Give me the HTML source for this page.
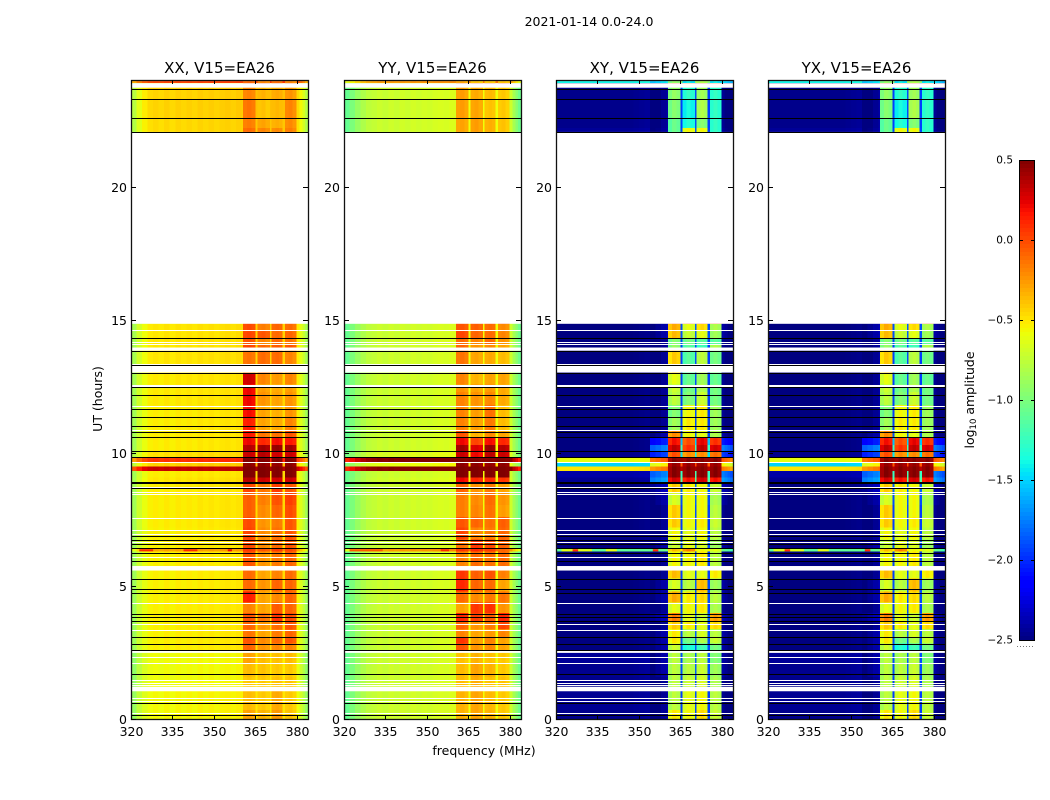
<!DOCTYPE html>
<html lang="en">
<head>
<meta charset="utf-8">
<title>2021-01-14 0.0-24.0</title>
<style>
html,body{margin:0;padding:0;background:#fff;}
svg{display:block;font-family:"DejaVu Sans","Liberation Sans",sans-serif;fill:#000;}
</style>
</head>
<body>
<svg id="fig" xmlns="http://www.w3.org/2000/svg" width="1050" height="800" viewBox="0 0 1050 800">
  <rect x="0" y="0" width="1050" height="800" fill="#fff"/>
  <text x="589" y="26" font-size="12.5" text-anchor="middle">2021-01-14 0.0-24.0</text>
  <text x="484" y="755" font-size="12.5" text-anchor="middle">frequency (MHz)</text>
  <text x="0" y="0" font-size="12.5" text-anchor="middle" transform="translate(102,399) rotate(-90)">UT (hours)</text>
  <text x="0" y="0" font-size="12.5" text-anchor="middle" transform="translate(974,400) rotate(-90)">log<tspan font-size="8.5" dy="2">10</tspan><tspan dy="-2"> amplitude</tspan></text>
  <g id="panels"></g>
  <g id="cbar"></g>
</svg>
<script>
// ---------- axis labels ----------
const freqTicks = [320, 335, 350, 365, 380];
const hourTicks = [0, 5, 10, 15, 20];
const colorbarTicks = [0.5, 0, -0.5, -1, -1.5, -2, -2.5];
const colorbarTickLabels = ['0.5', '0.0', '\u22120.5', '\u22121.0', '\u22121.5', '\u22122.0', '\u22122.5'];

// ---------- frequency channels (MHz) ----------
const channelEdges = [320,322,324,326,328,330,332,334,336,338,340,342,344,346,348,350,352,354,356,358,360,360.5,362,363.5,365,365.7,367.2,368.7,370.2,370.8,372.2,373.5,374.8,375.6,377,378.4,379.8,381,382,383,384];
// -1 continuum, 0..3 sub-band block, 4 shoulder / inter-block gap
const channelBand = [-1,-1,-1,-1,-1,-1,-1,-1,-1,-1,-1,-1,-1,-1,-1,-1,-1,4,4,4,4,0,0,0,4,1,1,1,4,2,2,2,4,3,3,3,4,4,4,4];

// ---------- per-channel spectra, log10 amplitude ----------
const xxSpectrum = [-.92,-.76,-.66,-.6,-.58,-.6,-.57,-.6,-.57,-.59,-.57,-.59,-.56,-.58,-.56,-.58,-.56,-.55,-.57,-.55,-.56,0,.02,-.01,-.52,0,.02,-.02,-.52,-.02,0,-.02,-.52,0,.02,-.03,-.6,-.7,-.8,-.92];
const yySpectrum = [-1.08,-1,-.9,-.82,-.76,-.74,-.71,-.73,-.7,-.72,-.69,-.71,-.68,-.7,-.68,-.69,-.67,-.66,-.67,-.65,-.66,0,.02,-.02,-.58,0,.02,-.02,-.58,-.02,0,-.02,-.58,0,.02,-.02,-.7,-.85,-.95,-1.05];
const xySpectrum = [-2.5,-2.5,-2.5,-2.5,-2.5,-2.5,-2.5,-2.5,-2.5,-2.5,-2.5,-2.5,-2.5,-2.5,-2.49,-2.48,-2.47,-.15,-.1,-.05,0,-.1,0,-.05,.45,-.08,0,-.06,.5,-.05,0,-.05,.45,-.06,0,-.06,-.05,-.1,-.15,-.2];

// ---------- time rows (start hour of each row; last entry closes the last row) ----------
const rowStartHours = [0,.35,1.1,1.6,2.1,2.6,2.85,3.1,3.4,3.7,4,4.4,4.8,5.3,5.75,6.31,6.39,6.75,7.2,7.6,8.05,8.5,8.9,9.08,9.33,9.5,9.66,9.86,10.07,10.3,10.6,10.86,11.35,11.8,12.3,12.6,13,13.84,14.05,14.31,14.6,14.85,22.05,22.2,22.58,23.29,23.71,23.88,23.96,24];

// continuum level offset of each row
const xxContinuum = [.02,.02,0,0,0,.05,.05,.05,.05,.05,.05,.05,.05,.05,.05,.3,.05,.05,.06,.06,.06,.06,.08,.06,.9,.15,.65,.1,.06,.06,.06,.06,.06,.07,.07,.07,.08,.08,.08,.08,.08,0,.12,.12,.14,.14,0,.6,0];
const yyContinuum = [0,0,0,0,0,0,0,0,0,0,0,0,0,0,0,.45,0,0,0,0,0,0,.02,0,1.2,.1,1.2,.05,0,0,0,0,0,0,0,0,0,0,0,0,0,0,0,0,0,0,0,.45,0];
const xyContinuum = [.03,.05,.03,.04,.06,0,0,0,0,0,0,0,0,0,0,1.4,0,0,0,0,0,0,.05,.1,2,1,1.9,.03,0,0,0,0,0,0,0,0,0,0,0,0,0,0,.06,.03,.03,.03,0,1.1,0];

// xy / yx shoulder level beside the sub-band blocks
const xyShoulder = [-2.4,-2.4,-2.4,-2.35,-2.35,-2.35,-2.35,-2.35,-2.4,-2.3,-2.4,-2.35,-2.35,-2.4,-2.4,-1,-2.35,-2.4,-2.4,-2.4,-2.35,-2.3,-1.6,-1.7,-.1,-.5,0,-1.9,-1.7,-2,-2.35,-2.4,-2.4,-2.4,-2.4,-2.4,-2.4,-2.4,-2.4,-2.35,-2.35,-2.4,-2.38,-2.4,-2.4,-2.4,-2.4,-1.4,-2.4];

// sub-band block levels of each row: [block1, block2, block3, block4]
const xxBlocks = [
[-.3,-.35,-.25,-.4],[-.38,-.42,-.3,-.42],[-.42,-.42,-.38,-.4],[-.38,-.4,-.4,-.42],[-.3,-.38,-.38,-.38],
[-.1,-.25,-.2,-.2],[-.05,-.22,-.1,-.05],[-.15,-.3,-.15,-.1],[-.1,-.25,-.1,-.05],[-.05,-.15,.08,-.02],
[-.2,-.3,-.05,-.1],[.12,-.3,-.2,-.1],[-.12,-.25,-.08,-.1],[-.12,-.3,-.18,-.12],[-.05,-.25,-.15,-.1],
[.05,-.05,.05,0],[-.02,-.22,-.1,-.05],[0,-.22,-.12,-.05],[-.02,-.25,-.15,-.05],[-.08,-.22,-.08,-.02],
[-.08,-.18,-.02,.02],[0,-.15,.05,-.05],[.35,.3,.3,.3],[.5,.5,.5,.5],[.5,.5,.5,.5],
[.45,.45,.45,.45],[.5,.5,.5,.5],[.3,.35,.3,.3],[.35,.4,.45,.4],[.2,.1,.2,.15],
[.15,-.15,-.12,-.05],[.12,-.3,-.3,-.2],[.18,-.3,-.32,-.25],[.2,-.25,-.28,-.25],[.2,-.28,-.3,-.28],
[.28,-.2,-.25,-.2],[-.15,-.12,-.1,-.2],[0,-.1,-.05,-.05],[-.05,-.2,-.1,-.15],[0,-.05,-.1,-.1],
[-.02,-.18,-.08,-.12],[0,0,0,0],[-.12,-.2,-.2,-.18],[-.18,-.3,-.32,-.22],[-.15,-.4,-.35,-.2],
[-.2,-.35,-.3,-.25],[0,0,0,0],[-.1,-.2,-.1,-.2],[0,0,0,0]];
const yyBlocks = [
[-.35,-.3,-.33,-.42],[-.35,-.3,-.35,-.42],[-.38,-.33,-.38,-.4],[-.38,-.3,-.33,-.42],[-.4,-.35,-.38,-.42],
[-.05,-.25,-.2,-.3],[.05,-.28,-.18,-.3],[-.2,-.3,-.25,-.2],[-.1,-.25,-.15,0],[.1,.02,-.05,.1],
[-.3,.05,.08,-.25],[-.12,-.22,-.15,-.15],[.1,-.1,-.1,-.3],[.05,-.08,-.02,-.18],[-.2,-.12,-.12,-.12],
[.05,.1,.05,-.1],[-.15,.05,0,-.1],[0,-.2,-.15,-.1],[-.05,-.1,-.12,-.08],[-.18,-.2,-.12,-.28],
[-.18,-.22,-.1,-.25],[-.1,-.25,-.15,-.3],[.2,.1,.1,.05],[.5,.5,.5,.5],[.5,.5,.5,.5],
[.45,.45,.45,.45],[.5,.5,.5,.5],[.3,.2,.35,.3],[.4,.25,.45,.35],[.2,0,.2,.1],
[-.05,-.35,-.2,-.3],[-.2,-.28,-.15,-.38],[-.2,-.28,-.12,-.38],[-.2,-.25,-.2,-.32],[-.25,-.3,-.25,-.32],
[-.2,-.35,-.28,-.3],[-.15,-.3,-.3,-.38],[-.1,-.25,-.2,-.3],[-.12,-.2,-.1,-.25],[0,-.1,-.1,-.2],
[-.05,-.08,-.1,-.22],[0,0,0,0],[-.3,-.28,-.32,-.4],[-.3,-.28,-.32,-.4],[-.28,-.3,-.38,-.42],
[-.28,-.32,-.35,-.42],[0,0,0,0],[-.3,-.4,-.4,-.4],[0,0,0,0]];
const xyBlocks = [
[-.5,-.55,-.45,-.7],[-.75,-.6,-.55,-.75],[-.75,-.7,-.65,-.8],[-.75,-.75,-.7,-.85],[-.75,-.8,-.75,-.95],
[-.7,-1.3,-1.2,-1],[-.5,-1,-.8,-.7],[-.5,-.75,-.65,-.75],[-.4,-.5,-.6,-.45],[-.15,-.6,-.7,-.25],
[-.6,-.55,-.5,-.8],[-.3,-.5,-.45,-.75],[-.65,-.75,-.35,-.85],[-.35,-.6,-.6,-.5],[-.55,-.55,-.5,-.75],
[-.35,-.15,-.55,-.6],[-.7,-.6,-.65,-.85],[-.55,-.6,-.55,-.75],[-.4,-.55,-.5,-.7],[-.4,-.55,-.55,-.75],
[-.65,-.55,-.55,-.8],[-.4,-.5,-.55,-.7],[.3,.2,.3,.2],[.5,.5,.5,.5],[.5,.5,.5,.5],
[.45,.45,.45,.45],[.5,.5,.5,.5],[0,-.2,-.2,-.1],[.35,.1,.35,.3],[.2,0,.25,.1],
[-.2,-.55,-.6,-.8],[-.85,-.5,-.5,-.85],[-.95,-.55,-.5,-.85],[-.75,-.95,-.7,-1],[-.7,-1,-.8,-1],
[-.6,-1.05,-.85,-1.05],[-.4,-1.1,-.75,-1],[-.9,-1.1,-1.2,-.8],[-.95,-1,-1.1,-1.1],[-.35,-.7,-.6,-.85],
[-.3,-.6,-.45,-.8],[0,0,0,0],[-1.05,-.55,-.55,-1.25],[-1.05,-1.3,-.95,-1.25],[-.95,-1.35,-.8,-1.25],
[-.9,-1.25,-.85,-1.25],[0,0,0,0],[-.9,-1.4,-.8,-1.4],[0,0,0,0]];
const yxBlocks = xyBlocks;

// ---------- flagged data (hours) ----------
const whiteBands = [[14.85,22.05],[23.71,23.88],[23.96,24],[13.02,13.3],[13.84,13.96],[5.59,5.76],[2.5,2.6],[1.06,1.23]];
const whiteLines = [14.61,14.18,14.08,13.34,12.57,12.51,11.78,10.86,9.66,8.74,8.54,8.46,7.58,7.12,6.98,6.65,6.09,4.36,3.59,3.36,2.34,2.11,1.48,1.38,1.28,.81,.69,.26];
const blackLines = [23.67,23.29,22.58,22.05,14.31,13.84,13.32,13,12.47,12.17,11.65,11.35,11.03,10.8,10.6,10.07,9.86,8.89,8.93,8.68,6.87,6.73,6.58,6.44,6.24,5.94,5.29,4.89,4.75,3.97,3.84,3.69,3.09,2.85,2.6,1.7,.61,.16];

// ---------- RFI bursts near 6.35 h: [fromMHz, toMHz, level] ----------
const rfiHours = [6.31, 6.39];
const xxBursts = [[323,328,.1],[339,344,.1],[355,356.5,.2]];
const yyBursts = [[322,334,-.05],[355,358,.1]];
const xyBursts = [[322,333,-.6],[326,328,.1],[338,342,-.6],[355,357,.1]];
const yxBursts = xyBursts;

// ---------- colour scale ----------
const scaleMin = -2.5, scaleMax = 0.5;
const jetRed = [[0,0],[.35,0],[.66,1],[.89,1],[1,.5]];
const jetGreen = [[0,0],[.125,0],[.375,1],[.64,1],[.91,0],[1,0]];
const jetBlue = [[0,.5],[.11,1],[.34,1],[.65,0],[1,0]];

function seg(stops, t) {
  for (let i = 1; i < stops.length; i++) {
    if (t <= stops[i][0]) {
      const a = stops[i - 1], b = stops[i];
      return a[1] + (b[1] - a[1]) * (t - a[0]) / (b[0] - a[0]);
    }
  }
  return stops[stops.length - 1][1];
}
function colour(v) {
  const t = Math.min(1, Math.max(0, (v - scaleMin) / (scaleMax - scaleMin)));
  return 'rgb(' + Math.round(seg(jetRed, t) * 255) + ',' + Math.round(seg(jetGreen, t) * 255) + ',' + Math.round(seg(jetBlue, t) * 255) + ')';
}

const NS = 'http://www.w3.org/2000/svg';
function el(tag, attrs, parent) {
  const e = document.createElementNS(NS, tag);
  for (const k in attrs) e.setAttribute(k, attrs[k]);
  parent.appendChild(e);
  return e;
}

// ---------- axis functions ----------
const plotTop = 80, plotBottom = 719.5, plotWidth = 177;
const hoursMax = 24, freqMin = 320, freqMax = 384;
function yScale(h) { return plotBottom - h * (plotBottom - plotTop) / hoursMax; }
function xScale(f, left) { return left + (f - freqMin) * plotWidth / (freqMax - freqMin); }
function cbarY(v) { return 160 + (scaleMax - v) * 160; }

const panelDefs = [
  {name: 'xx', title: 'XX, V15=EA26', left: 131, spectrum: xxSpectrum, cont: xxContinuum, blocks: xxBlocks, bursts: xxBursts, shoulder: null},
  {name: 'yy', title: 'YY, V15=EA26', left: 344, spectrum: yySpectrum, cont: yyContinuum, blocks: yyBlocks, bursts: yyBursts, shoulder: null},
  {name: 'xy', title: 'XY, V15=EA26', left: 556, spectrum: xySpectrum, cont: xyContinuum, blocks: xyBlocks, bursts: xyBursts, shoulder: xyShoulder},
  {name: 'yx', title: 'YX, V15=EA26', left: 768, spectrum: xySpectrum, cont: xyContinuum, blocks: yxBlocks, bursts: yxBursts, shoulder: xyShoulder}
];

const panelsRoot = document.getElementById('panels');
panelDefs.forEach(function (p) {
  const g = el('g', {}, panelsRoot);
  
  

  const cells = el('g', {'shape-rendering': 'crispEdges'}, g);
  
  

  for (let r = 0; r < rowStartHours.length - 1; r++) {
    const y0 = yScale(rowStartHours[r + 1]), y1 = yScale(rowStartHours[r]);
    for (let c = 0; c < channelEdges.length - 1; c++) {
      const band = channelBand[c];
      let v;
      if (band >= 0 && band < 4) v = p.blocks[r][band] + p.spectrum[c];
      else if (band === 4 && p.shoulder) v = p.shoulder[r] + p.spectrum[c];
      else v = p.spectrum[c] + p.cont[r];
      const x0 = xScale(channelEdges[c], p.left), x1 = xScale(channelEdges[c + 1], p.left);
      const cell = el('rect', {x: x0.toFixed(2), y: y0.toFixed(2), width: (x1 - x0).toFixed(2), height: (y1 - y0).toFixed(2), fill: colour(v)}, cells);
      
      
    }
  }

  p.bursts.forEach(function (b) {
    const x0 = xScale(b[0], p.left), x1 = xScale(b[1], p.left);
    const burst = el('rect', {x: x0, y: yScale(rfiHours[1]), width: x1 - x0, height: yScale(rfiHours[0]) - yScale(rfiHours[1]), fill: colour(b[2])}, g);
    
    
  });

  whiteBands.forEach(function (b) {
    const band = el('rect', {x: p.left, y: yScale(b[1]), width: plotWidth, height: yScale(b[0]) - yScale(b[1]), fill: '#fff'}, g);
    
    
  });
  whiteLines.forEach(function (h) {
    const line = el('rect', {x: p.left, y: Math.round(yScale(h)), width: plotWidth, height: 1, fill: '#fff'}, g);
    
    
  });
  blackLines.forEach(function (h) {
    const line = el('rect', {x: p.left, y: Math.round(yScale(h)), width: plotWidth, height: 1, fill: '#000'}, g);
    
    
  });

  const frame = el('rect', {x: p.left + 0.5, y: plotTop + 0.5, width: plotWidth, height: plotBottom - plotTop - 0.5, fill: 'none', stroke: '#111', 'stroke-width': 1.3}, g);
  
  

  const title = el('text', {x: p.left + plotWidth / 2, y: 73, 'font-size': 15, 'text-anchor': 'middle'}, g);
  title.textContent = p.title;
  
  

  freqTicks.forEach(function (f) {
    const x = Math.round(xScale(f, p.left)) + 0.5;
    const tb = el('line', {x1: x, x2: x, y1: plotBottom, y2: plotBottom - 4, stroke: '#000'}, g);
    
    
    const tt = el('line', {x1: x, x2: x, y1: plotTop, y2: plotTop + 4, stroke: '#000'}, g);
    
    
    const lab = el('text', {x: x, y: 736, 'font-size': 12.5, 'text-anchor': 'middle'}, g);
    lab.textContent = String(f);
    
    
  });
  hourTicks.forEach(function (h) {
    const y = Math.round(yScale(h)) + (h === 0 ? -0.5 : 0.5);
    const tl = el('line', {x1: p.left, x2: p.left + 5, y1: y, y2: y, stroke: '#000'}, g);
    
    
    const tr = el('line', {x1: p.left + plotWidth, x2: p.left + plotWidth - 5, y1: y, y2: y, stroke: '#000'}, g);
    
    
    const lab = el('text', {x: p.left - 4, y: y + 4.5, 'font-size': 12.5, 'text-anchor': 'end'}, g);
    lab.textContent = String(h);
    
    
  });
});

// ---------- colour bar ----------
const cbarRoot = document.getElementById('cbar');
const cbarLeft = 1019, cbarWidth = 16;
const cbarStrip = el('g', {'shape-rendering': 'crispEdges'}, cbarRoot);


const cbarSteps = 120;
for (let i = 0; i < cbarSteps; i++) {
  const v = scaleMax - (i + 0.5) * (scaleMax - scaleMin) / cbarSteps;
  const s = el('rect', {x: cbarLeft, y: cbarY(v) - 2, width: cbarWidth, height: 4.2, fill: colour(v)}, cbarStrip);
  
  
}
const cbarFrame = el('rect', {x: cbarLeft + 0.5, y: 160.5, width: cbarWidth - 1, height: 480, fill: 'none', stroke: '#000'}, cbarRoot);


colorbarTicks.forEach(function (v, i) {
  const y = Math.round(cbarY(v)) + 0.5;
  const a = el('line', {x1: cbarLeft, x2: cbarLeft + 4, y1: y, y2: y, stroke: '#000'}, cbarRoot);
  
  
  const b = el('line', {x1: cbarLeft + cbarWidth, x2: cbarLeft + cbarWidth - 4, y1: y, y2: y, stroke: '#000'}, cbarRoot);
  
  
  const lab = el('text', {x: 1013, y: y + 3, 'font-size': 10.5, 'text-anchor': 'end'}, cbarRoot);
  lab.textContent = colorbarTickLabels[i];
  
  
});
const cbarDots = el('line', {x1: 1017, x2: 1035, y1: 646.5, y2: 646.5, stroke: '#777', 'stroke-dasharray': '1 2'}, cbarRoot);


</script>
</body>
</html>
